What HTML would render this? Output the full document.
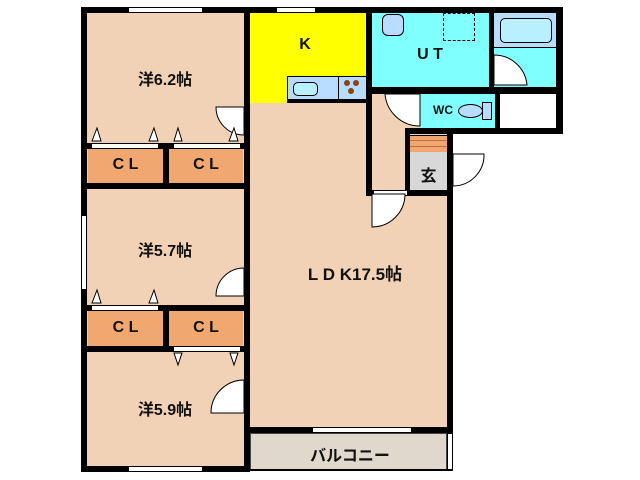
<!DOCTYPE html>
<html><head><meta charset="utf-8"><style>
body{margin:0;width:640px;height:480px;background:#fff;position:relative;overflow:hidden;font-family:"Liberation Sans","Noto Sans CJK JP",sans-serif}
div{position:absolute;box-sizing:border-box}
.w{background:#000}
.t{font-weight:bold;color:#111;text-align:center;white-space:nowrap}
.cl{background:#f0a870}
.win{background:#fff;border:1px solid #000}
</style></head><body>
<!-- floors -->
<div style="left:87px;top:13px;width:158px;height:455px;background:#f2d2b6"></div>
<div style="left:250px;top:13px;width:198px;height:420px;background:#f2d2b6"></div>
<div style="left:250px;top:13px;width:117px;height:90px;background:#ffff00"></div>
<div style="left:287px;top:76px;width:82px;height:27px;background:#b8dcff;border:1px solid #000;border-bottom:4px solid #000"></div>
<div style="left:293px;top:82px;width:25px;height:14px;background:#b8f0ff;border:1px solid #000;border-radius:5px"></div>
<div style="left:338px;top:76px;width:1px;height:24px;background:#000"></div>
<div style="left:344px;top:80px;width:6px;height:6px;background:#8b4513;border-radius:50%"></div>
<div style="left:353px;top:80px;width:6px;height:6px;background:#8b4513;border-radius:50%"></div>
<div style="left:348px;top:88px;width:6px;height:6px;background:#8b4513;border-radius:50%"></div>
<div style="left:372px;top:13px;width:118px;height:75px;background:#80ffff"></div>
<div style="left:494px;top:13px;width:63px;height:75px;background:#80ffff"></div>
<div style="left:494px;top:13px;width:63px;height:35px;background:#b8dcff;border-bottom:1px solid #000"></div>
<div style="left:500px;top:18px;width:52px;height:25px;background:#b8f0ff;border:1px solid #000;border-radius:5px"></div>
<div style="left:382px;top:14px;width:22px;height:22px;background:#b8dcff;border:1px solid #000;border-radius:6px"></div>
<div style="left:443px;top:13px;width:32px;height:28px;border:1px dashed #000"></div>
<div style="left:420px;top:94px;width:76px;height:34px;background:#80ffff"></div>
<div style="left:458px;top:104px;width:25px;height:14px;background:#b8dcff;border:1px solid #000;border-radius:50%"></div>
<div style="left:482px;top:102px;width:10px;height:18px;background:#b8dcff;border:1px solid #000"></div>
<div style="left:372px;top:94px;width:38px;height:99px;background:#f2d2b6"></div>
<div style="left:410px;top:135px;width:37px;height:17px;background:#f0a870;border-top:1px solid #000"></div>
<div style="left:410px;top:140px;width:37px;height:1px;background:#c07040"></div>
<div style="left:410px;top:146px;width:37px;height:1px;background:#c07040"></div>
<div style="left:410px;top:152px;width:37px;height:38px;background:#d8d8d8"></div>
<div style="left:250px;top:433px;width:197px;height:37px;background:#e0d8cc;border:1px solid #444"></div>
<!-- CL -->
<div class="cl" style="left:88px;top:149px;width:75px;height:34px"></div>
<div class="cl" style="left:169px;top:149px;width:74px;height:34px"></div>
<div class="cl" style="left:88px;top:311px;width:75px;height:35px"></div>
<div class="cl" style="left:169px;top:311px;width:74px;height:35px"></div>
<!-- walls -->
<div class="w" style="left:81px;top:7px;width:6px;height:465px"></div>
<div class="w" style="left:81px;top:7px;width:482px;height:6px"></div>
<div class="w" style="left:81px;top:466px;width:169px;height:6px"></div>
<div class="w" style="left:244px;top:7px;width:6px;height:465px"></div>
<div class="w" style="left:81px;top:143px;width:169px;height:6px"></div>
<div class="w" style="left:163px;top:143px;width:6px;height:40px"></div>
<div class="w" style="left:81px;top:183px;width:169px;height:6px"></div>
<div class="w" style="left:81px;top:305px;width:169px;height:6px"></div>
<div class="w" style="left:163px;top:305px;width:6px;height:41px"></div>
<div class="w" style="left:81px;top:346px;width:169px;height:6px"></div>
<div class="w" style="left:366px;top:7px;width:6px;height:189px"></div>
<div class="w" style="left:366px;top:87px;width:197px;height:7px"></div>
<div class="w" style="left:489px;top:7px;width:5px;height:87px"></div>
<div class="w" style="left:556px;top:7px;width:7px;height:127px"></div>
<div class="w" style="left:495px;top:94px;width:5px;height:40px"></div>
<div class="w" style="left:410px;top:128px;width:153px;height:6px"></div>
<div class="w" style="left:405px;top:128px;width:5px;height:68px"></div>
<div class="w" style="left:366px;top:190px;width:87px;height:6px"></div>
<div class="w" style="left:447px;top:128px;width:6px;height:305px"></div>
<div class="w" style="left:250px;top:427px;width:203px;height:6px"></div>
<div style="left:447px;top:433px;width:6px;height:38px;border:1px solid #000;background:#fff"></div>
<div style="left:250px;top:469px;width:203px;height:2px;background:#000"></div>
<!-- windows/openings -->
<div class="win" style="left:128px;top:7px;width:75px;height:6px"></div>
<div class="win" style="left:276px;top:7px;width:40px;height:6px"></div>
<div class="win" style="left:128px;top:466px;width:75px;height:6px"></div>
<div class="win" style="left:312px;top:427px;width:100px;height:6px"></div>
<div class="win" style="left:81px;top:215px;width:6px;height:75px"></div>
<div class="win" style="left:91px;top:143px;width:68px;height:6px"></div>
<div class="win" style="left:173px;top:143px;width:68px;height:6px"></div>
<div class="win" style="left:91px;top:305px;width:68px;height:6px"></div>
<div class="win" style="left:173px;top:346px;width:68px;height:6px"></div>
<div class="win" style="left:373px;top:190px;width:35px;height:6px"></div>
<!-- doors -->
<svg style="position:absolute;left:0;top:0" width="640" height="480">
<g fill="#fff" stroke="#000" stroke-width="1">
<path d="M244 107 H216 A28 28 0 0 0 244 135 Z"/>
<path d="M244 268 A28 28 0 0 0 216 296 H244 Z"/>
<path d="M244 380 A33 33 0 0 0 211 413 H244 Z"/>
<path d="M372 194 V227 A33 33 0 0 0 405 194 Z"/>
<path d="M385 94 A35 35 0 0 0 420 126 V94 Z"/>
<path d="M494 55 A33 33 0 0 1 527 85 H494 Z"/>
<path d="M453 154 H484 A31 31 0 0 1 453 186 Z"/>
</g>
<g fill="#fff" stroke="#000">
<path d="M92 141 L97 128 L101 141 Z"/><path d="M149 141 L154 128 L158 141 Z"/>
<path d="M174 141 L178 128 L182 141 Z"/><path d="M229 141 L234 128 L238 141 Z"/>
<path d="M92 303 L97 290 L101 303 Z"/><path d="M149 303 L154 290 L158 303 Z"/>
<path d="M174 353 L178 365 L182 353 Z"/><path d="M230 353 L234 365 L238 353 Z"/>
</g>
</svg>
<!-- labels -->
<div class="t" style="left:110px;top:66px;width:110px;font-size:16px">洋6.2帖</div>
<div class="t" style="left:110px;top:237px;width:110px;font-size:16px">洋5.7帖</div>
<div class="t" style="left:110px;top:396px;width:110px;font-size:16px">洋5.9帖</div>
<div class="t" style="left:88px;top:156px;width:75px;font-size:16px">C L</div>
<div class="t" style="left:169px;top:156px;width:74px;font-size:16px">C L</div>
<div class="t" style="left:88px;top:319px;width:75px;font-size:16px">C L</div>
<div class="t" style="left:169px;top:319px;width:74px;font-size:16px">C L</div>
<div class="t" style="left:280px;top:36px;width:50px;font-size:16px">K</div>
<div class="t" style="left:400px;top:46px;width:60px;font-size:16px">U T</div>
<div class="t" style="left:428px;top:103px;width:30px;font-size:12px">WC</div>
<div class="t" style="left:410px;top:162px;width:37px;font-size:16px">玄</div>
<div class="t" style="left:280px;top:260px;width:150px;font-size:17px">L D K17.5帖</div>
<div class="t" style="left:280px;top:442px;width:140px;font-size:16px">バルコニー</div>
</body></html>
